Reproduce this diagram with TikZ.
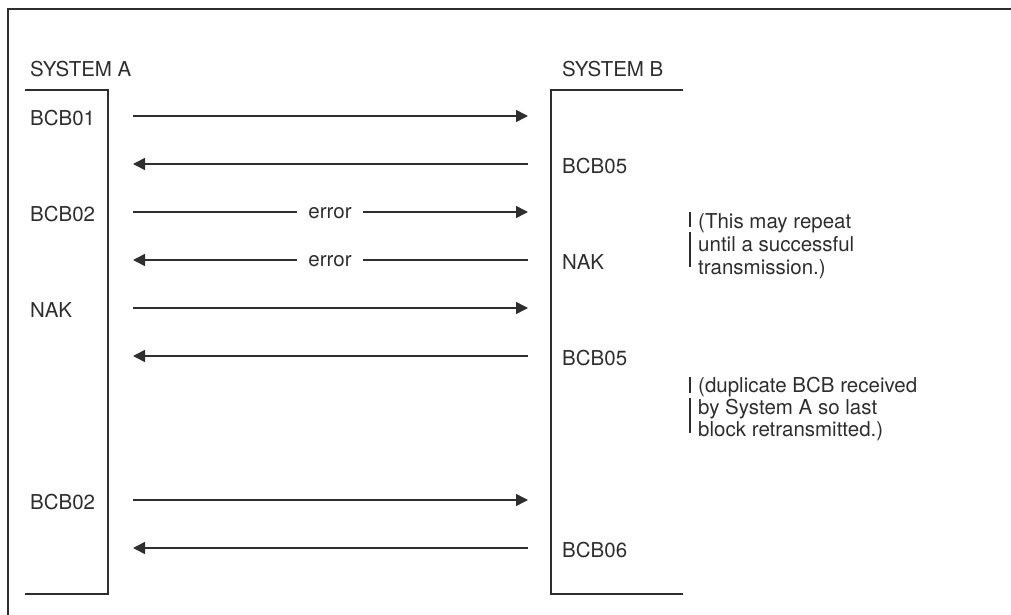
\documentclass[tikz,border=0pt]{standalone}
\usepackage{fontspec}
\setmainfont{TeX Gyre Heros}
\usetikzlibrary{arrows.meta}
\definecolor{ink}{HTML}{2E2E2E}
\begin{document}
\begin{tikzpicture}[x=1pt,y=-1pt,
  line/.style={draw=ink,line width=1.5pt},
  msg/.style={line,-{Triangle[length=12pt,width=12pt]}},
  lbl/.style={anchor=base west,inner sep=0pt,text=ink,font=\fontsize{20.5}{22}\selectfont},
  errlbl/.style={anchor=base,inner ysep=0pt,inner xsep=11pt,text=ink,font=\fontsize{20.5}{22}\selectfont},
  bar/.style={draw=ink,line width=1.3pt}]
\useasboundingbox (0,0) rectangle (1011,615);
% frame
\draw[line] (8,616) -- (8,9) -- (1012,9);
% system boxes
\node[lbl] (sysA) at (30,77) {SYSTEM A};
\node[lbl] (sysB) at (562,77) {SYSTEM B};
\draw[line] (25,90) -- (108,90) -- (108,594) -- (25,594);
\draw[line] (683,90) -- (551,90) -- (551,594) -- (683,594);
% end points
\foreach \i/\y in {1/116,2/164,3/212,4/260,5/308,6/356,7/500,8/548}{
  \coordinate (a\i) at (133,\y);
  \coordinate (b\i) at (528,\y);
}
% labels
\node[lbl] (l1) at (30,125.5) {BCB01};
\node[lbl] (r2) at (562,173.5) {BCB05};
\node[lbl] (l3) at (30,221.5) {BCB02};
\node[lbl] (r4) at (562,269.5) {NAK};
\node[lbl] (l5) at (30,317.5) {NAK};
\node[lbl] (r6) at (562,365.5) {BCB05};
\node[lbl] (l7) at (30,509.5) {BCB02};
\node[lbl] (r8) at (562,557.5) {BCB06};
% messages
\draw[msg] (a1) -- (b1);
\draw[msg] (b2) -- (a2);
\node[errlbl] (e3) at (330,218.5) {error};
\draw[line] (a3) -- (a3 -| e3.west);
\draw[msg] (b3 -| e3.east) -- (b3);
\node[errlbl] (e4) at (330,266.5) {error};
\draw[line] (b4) -- (b4 -| e4.east);
\draw[msg] (a4 -| e4.west) -- (a4);
\draw[msg] (a5) -- (b5);
\draw[msg] (b6) -- (a6);
\draw[msg] (a7) -- (b7);
\draw[msg] (b8) -- (a8);
% notes
\node[lbl] (n1a) at (698,228) {(This may repeat};
\node[lbl] (n1b) at (698,251) {until a successful};
\node[lbl] (n1c) at (698,274) {transmission.)};
\draw[bar] (690,212) -- (690,227);
\draw[bar] (690,232) -- (690,267);
\node[lbl] (n2a) at (698,392) {(duplicate BCB received};
\node[lbl] (n2b) at (698,414) {by System A so last};
\node[lbl] (n2c) at (698,436) {block retransmitted.)};
\draw[bar] (690,377) -- (690,393);
\draw[bar] (690,398) -- (690,433);
\end{tikzpicture}
\end{document}
